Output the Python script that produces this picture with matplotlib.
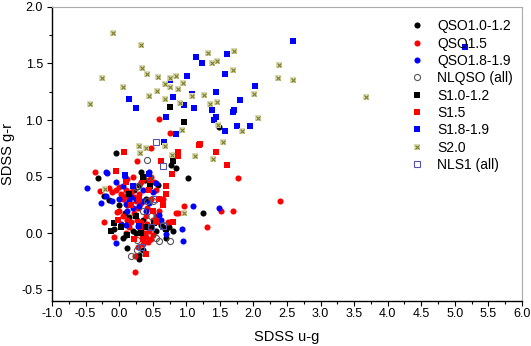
import numpy as np
import matplotlib.pyplot as plt
from matplotlib.legend_handler import HandlerTuple

plt.rcParams['font.family'] = ['Liberation Sans', 'DejaVu Sans']

# QSO1.0-1.2 (black filled circles)
qso10_x = [-0.31, -0.05, 0.33, 0.30, 0.58, 1.02, 1.245, 0.80, 0.70, 0.11, 0.29, 0.36, 0.29, 0.77,
           0.85, 1.48, -0.22, -0.15, 0.00, 0.08, 0.15, 0.20, 0.25, 0.35, 0.40, 0.48, 0.55, 0.65,
           0.74, 0.22, 0.10, 0.05, 0.38, 0.62, -0.08]
qso10_y = [0.49, 0.71, 0.54, 0.425, 0.43, 0.49, 0.18, 0.015, -0.04, -0.13, -0.23, -0.15, -0.19, 0.60,
           0.58, 0.94, 0.33, 0.29, 0.25, 0.18, 0.14, 0.02, 0.00, 0.12, 0.30, 0.05, 0.02, 0.05,
           0.05, 0.38, -0.02, -0.04, 0.47, 0.07, 0.04]

# QSO1.5 (red filled circles)
qso15_x = [-0.36, -0.28, -0.22, -0.15, -0.10, -0.05, 0.00, 0.02, 0.05, 0.08, 0.10, 0.12, 0.15, 0.18,
           0.20, 0.22, 0.25, 0.28, 0.30, 0.32, 0.35, 0.38, 0.40, 0.42, 0.45, 0.47, 0.50, 0.43,
           0.40, 0.36, 0.30, 0.26, 0.22, 0.18, 0.15, 0.10, 0.05, 0.00, -0.03, -0.08, 0.24, 0.24,
           0.33, 0.45, 0.48, 0.52, 0.55, 0.60, 0.65, 0.72, 0.85, 0.88, 0.97, 1.52, 1.69, 1.31,
           1.77, 2.39, 0.60, 0.75, 0.47, 0.26, 0.12, 0.20, 0.35, 0.42, 0.48, 0.55, 0.32, 0.12,
           0.28, 0.50]
qso15_y = [0.54, 0.37, 0.10, 0.40, 0.36, 0.38, 0.41, 0.35, 0.30, 0.33, 0.38, 0.25, 0.30, 0.36,
           0.41, 0.32, 0.28, 0.22, 0.35, 0.10, 0.05, 0.00, 0.15, 0.08, 0.02, -0.05, 0.12, -0.08,
           -0.03, -0.10, 0.05, 0.12, 0.18, 0.10, 0.05, 0.00, 0.15, 0.20, 0.19, -0.03, -0.20, -0.34,
           0.45, 0.47, 0.50, 0.45, 0.15, 0.20, 0.30, 0.10, 0.18, 0.18, 0.24, 0.20, 0.20, 0.05,
           0.49, 0.28, 1.01, 0.885, 0.75, 0.64, 0.48, 0.50, 0.48, 0.22, 0.30, 0.38, 0.27, 0.12,
           -0.12, -0.02]

# QSO1.8-1.9 (blue filled circles)
qso18_x = [-0.20, -0.18, -0.48, -0.27, -0.20, -0.10, -0.05, 0.00, 0.05, 0.08, 0.10, 0.12, 0.15, 0.20,
           0.25, 0.30, 0.35, 0.40, 0.45, 0.50, 0.55, 0.62, 0.03, -0.05, 0.10, 0.28, 0.70, 0.93,
           0.95, 1.10, 1.48, 0.36, 0.18, 0.45, 0.60]
qso18_y = [0.54, 0.535, 0.40, 0.27, 0.33, 0.28, 0.45, 0.30, 0.42, 0.50, 0.26, 0.20, 0.28, 0.22,
           0.30, 0.24, 0.38, 0.20, 0.27, 0.36, 0.44, 0.12, 0.08, -0.09, 0.07, 0.06, -0.01, 0.04,
           -0.07, 0.24, 0.22, 0.28, 0.32, 0.54, 0.16]

# NLQSO (all) (open circles)
nlqso_x = [0.42, 0.25, 0.28, 0.45, 0.48, 0.55, 0.60, 0.75, 0.26, 0.27, 0.17, 0.35, 0.65, 0.42, 0.50]
nlqso_y = [0.65, 0.41, 0.42, 0.50, 0.15, -0.04, -0.07, -0.07, -0.06, -0.15, -0.20, 0.20, 0.07, 0.28, 0.28]

# S1.0-1.2 (black squares)
s10_x = [0.76, 0.97, 0.80, -0.12, -0.08, 0.02, 0.12, 0.35, 0.40, 0.52, 0.46, 0.70, 0.25, 0.15, 0.32]
s10_y = [1.115, 0.98, 0.64, 0.02, 0.09, 0.05, -0.02, 0.50, 0.05, 0.09, 0.42, 0.04, 0.15, 0.35, 0.00]

# S1.5 (red squares)
s15_x = [0.07, 0.63, 0.87, 0.87, 1.19, 1.20, 1.44, 1.60, 0.79, 0.70, 0.70, 0.65, 0.80, 0.40, 0.55,
         -0.05, 0.50, 0.30, 0.18, 0.45, 0.60, 0.35, 0.10, -0.02, 0.22]
s15_y = [0.72, 0.64, 0.72, 0.68, 0.78, 0.79, 0.72, 0.60, 0.525, 0.42, 0.35, 0.25, 0.10, -0.18, 0.10,
         0.55, 0.20, 0.30, 0.25, 0.38, 0.30, -0.05, 0.45, 0.12, -0.05]

# S1.8-1.9 (blue squares)
s18_x = [1.145, 1.23, 1.60, 1.57, 2.02, 1.01, 0.75, 0.80, 1.085, 1.44, 1.80, 0.97, 1.12, 1.39, 1.71,
         1.70, 1.44, 1.41, 0.70, 0.14, 0.255, 1.57, 1.76, 1.945, 0.84, 0.67, 2.585, 5.15, 0.09,
         0.20, 0.45, 0.30]
s18_y = [1.555, 1.50, 1.58, 1.41, 1.30, 1.39, 1.35, 1.20, 1.23, 1.245, 1.175, 1.13, 1.11, 1.09, 1.09,
         1.075, 1.025, 1.00, 1.03, 1.185, 1.105, 0.90, 0.945, 0.95, 0.88, 0.805, 1.70, 1.65, 0.51,
         0.42, 0.52, 0.06]

# S2.0 (olive stars)
s20_x = [-0.087, 0.32, -0.25, 0.06, -0.44, 0.345, 0.41, 0.58, 0.57, 0.445, 0.69, 0.76, 0.85, 0.95,
         0.88, 0.75, 0.69, 0.90, 1.08, 1.26, 1.35, 1.45, 1.32, 1.38, 1.45, 1.71, 1.70, 2.01, 2.07,
         1.83, 1.47, 0.94, 0.69, 1.54, 2.385, 2.36, 2.585, 3.67, 0.30, 0.31, 0.40, 0.79, 1.13,
         1.40, -0.21, 0.97]
s20_y = [1.768, 1.66, 1.37, 1.29, 1.14, 1.46, 1.41, 1.38, 1.255, 1.21, 1.32, 1.37, 1.39, 1.33,
         1.275, 1.29, 1.185, 1.15, 1.21, 1.22, 1.14, 1.16, 1.59, 1.50, 1.52, 1.61, 1.44, 1.23, 1.02,
         0.90, 0.96, 0.91, 0.77, 0.805, 1.485, 1.375, 1.35, 1.205, 0.77, 0.71, 0.75, 0.69, 0.68,
         0.655, 0.39, 0.18]

# NLS1 (all) (open squares)
nls1_x = [0.55, 0.66, 0.48, 0.33, 0.65, 0.52]
nls1_y = [0.81, 0.59, 0.05, -0.12, 0.06, 0.30]

OLIVE = '#7d7d2a'
PALE = '#d9d9b0'

fig = plt.figure(figsize=(5.31, 3.46), dpi=100)
ax = fig.add_axes([0.098, 0.130, 0.885, 0.850])

ms = 4.4
h_qso10, = ax.plot(qso10_x, qso10_y, 'o', color='black', ms=ms, mew=0)
h_qso15, = ax.plot(qso15_x, qso15_y, 'o', color='red', ms=ms, mew=0)
h_qso18, = ax.plot(qso18_x, qso18_y, 'o', color='blue', ms=ms, mew=0)
h_nlqso, = ax.plot(nlqso_x, nlqso_y, 'o', mfc='none', mec='#555555', ms=ms, mew=0.8)
h_s10, = ax.plot(s10_x, s10_y, 's', color='black', ms=3.8, mew=0)
h_s15, = ax.plot(s15_x, s15_y, 's', color='red', ms=3.8, mew=0)
h_s18, = ax.plot(s18_x, s18_y, 's', color='blue', ms=3.8, mew=0)
h_s20a, = ax.plot(s20_x, s20_y, 's', color=PALE, ms=4.0, mew=0)
h_s20b, = ax.plot(s20_x, s20_y, 'x', color=OLIVE, ms=3.2, mew=0.8)
h_nls1, = ax.plot(nls1_x, nls1_y, 's', mfc='none', mec='#5555aa', ms=3.8, mew=0.8)

handles = [h_qso10, h_qso15, h_qso18, h_nlqso, h_s10, h_s15, h_s18, (h_s20a, h_s20b), h_nls1]
labels = ['QSO1.0-1.2', 'QSO1.5', 'QSO1.8-1.9', 'NLQSO (all)', 'S1.0-1.2', 'S1.5', 'S1.8-1.9',
          'S2.0', 'NLS1 (all)']
ax.legend(handles, labels, loc='upper left', bbox_to_anchor=(0.762, 0.958), frameon=False,
          fontsize=10, handlelength=1.0, handletextpad=0.95, labelspacing=0.24,
          borderpad=0, borderaxespad=0,
          handler_map={tuple: HandlerTuple(ndivide=1, pad=0)})

ax.set_xlim(-1.0, 6.0)
ax.set_ylim(-0.6, 2.0)
ax.set_xticks(np.arange(-1.0, 6.01, 0.5))
ax.set_yticks(np.arange(-0.5, 2.01, 0.5))
ax.set_xticks(np.arange(-1.0, 6.01, 0.25), minor=True)
ax.set_yticks(np.arange(-0.5, 2.01, 0.25), minor=True)
ax.xaxis.set_major_formatter(plt.FormatStrFormatter('%.1f'))
ax.yaxis.set_major_formatter(plt.FormatStrFormatter('%.1f'))
ax.tick_params(which='major', direction='out', length=3.6, width=0.8, labelsize=9)
ax.tick_params(axis='x', which='major', pad=1.5)
ax.tick_params(axis='y', which='major', pad=3)
ax.tick_params(which='minor', direction='out', length=2, width=0.8)

for side in ('top', 'right'):
    ax.spines[side].set_color('#aaaaaa')
    ax.spines[side].set_linewidth(0.8)
for side in ('left', 'bottom'):
    ax.spines[side].set_linewidth(1.0)

ax.set_xlabel('SDSS u-g', fontsize=10.5, va='center')
ax.set_ylabel('SDSS g-r', fontsize=10.5, va='center')
ax.xaxis.set_label_coords(0.5, -0.122)
ax.yaxis.set_label_coords(-0.094, 0.5)

fig.savefig('out.png', dpi=100)
